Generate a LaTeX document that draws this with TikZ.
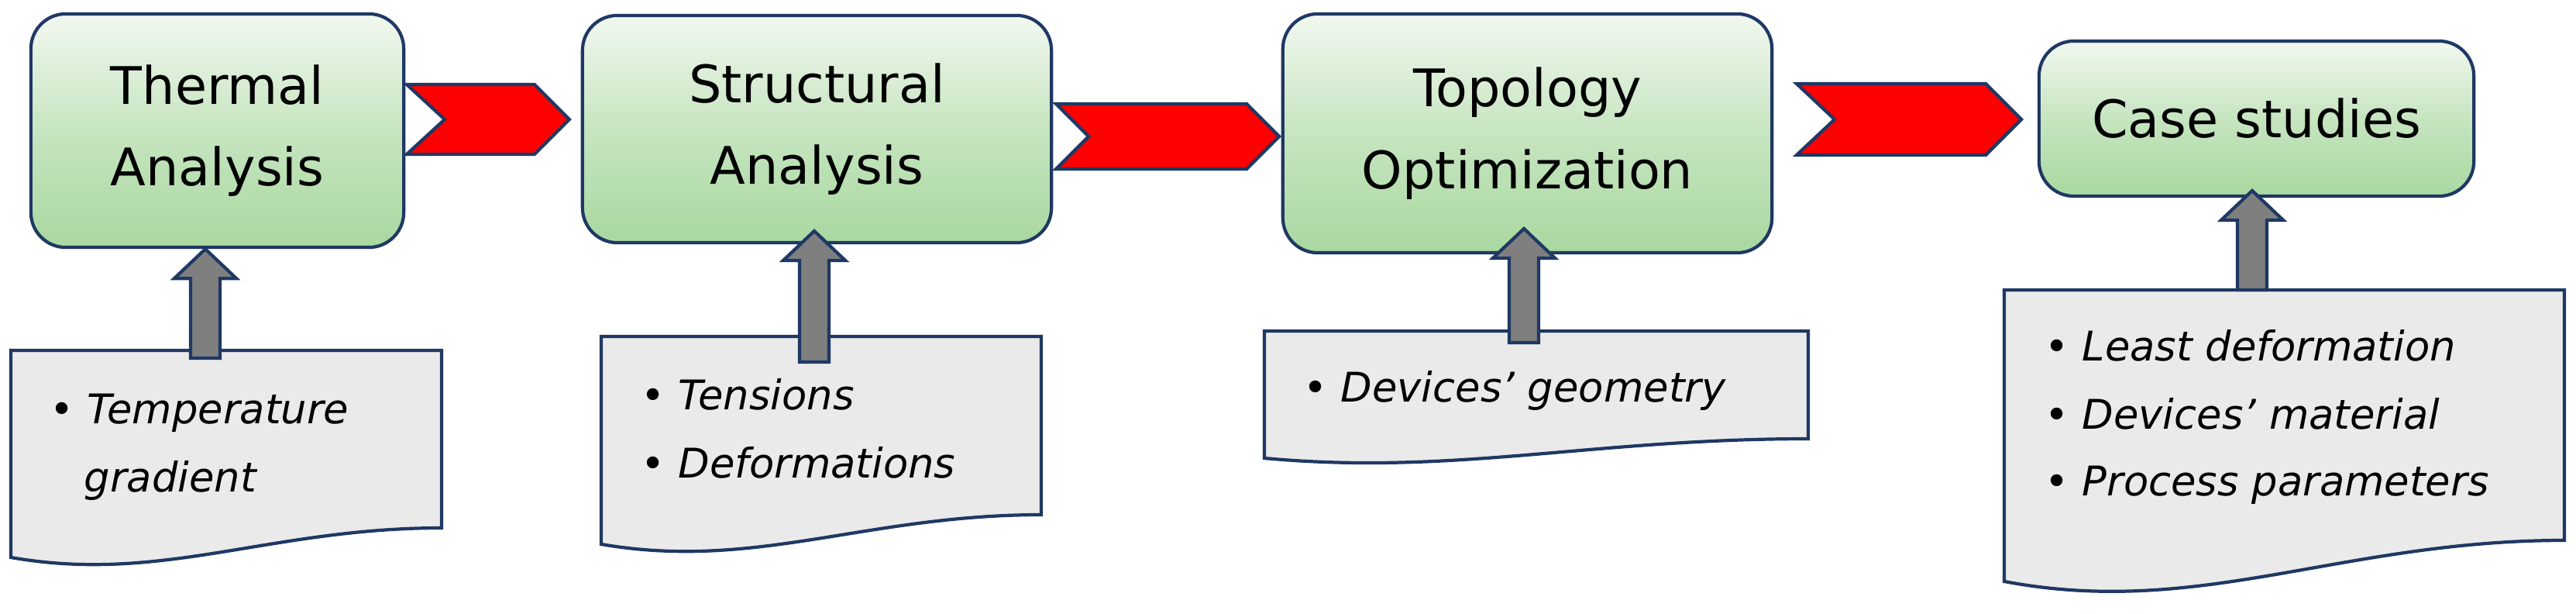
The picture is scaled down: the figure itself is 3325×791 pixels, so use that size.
\documentclass[tikz,border=0pt]{standalone}
\usepackage{fontspec}
\setmainfont{DejaVu Sans}
\usetikzlibrary{calc}
\definecolor{navy}{HTML}{1F3864}
\definecolor{arrgray}{HTML}{7F7F7F}
\definecolor{docfill}{HTML}{EAEAEA}
\definecolor{gtop}{HTML}{F2F8F0}
\definecolor{gbot}{HTML}{A9D8A0}
\tikzset{
  stage/.style={draw=navy, line width=1.2pt, rounded corners=0.45cm, top color=gtop, bottom color=gbot, middle color=gbot!60!gtop, align=center, font=\fontsize{19}{30}\selectfont, inner sep=0pt},
  docshape/.style={draw=navy, line width=1.2pt, fill=docfill},
  chevron/.style={draw=navy, line width=1.2pt, fill=red},
  grayarr/.style={draw=navy, line width=1.2pt, fill=arrgray},
  item/.style={anchor=base west, inner sep=0pt, font=\fontsize{15}{20}\selectfont}
}
\newcommand{\grayarrow}[2]{%
  \draw[grayarr] let \p1=(#1),\p2=(#2) in (\x1-5.4pt,\y1) -- (\x1-5.4pt,\y2-10.8pt) -- (\x1-11.4pt,\y2-10.8pt) -- (\x1,\y2) -- (\x1+11.4pt,\y2-10.8pt) -- (\x1+5.4pt,\y2-10.8pt) -- (\x1+5.4pt,\y1) -- cycle;}
\newcommand{\docpoly}[5]{% L R top rb lb
  \draw[docshape] (#1,#3) -- (#2,#3) -- (#2,#4) .. controls ({#2-0.4*(#2-#1)},#4) and ({#1+0.35*(#2-#1)},{#5+0.9*(#5-#4)}) .. (#1,#5) -- cycle;}
\newcommand{\chev}[6]{% x0 xn xp x1 yt yb
  \draw[chevron] (#1,#5) -- (#3,#5) -- (#4,{(#5+#6)/2}) -- (#3,#6) -- (#1,#6) -- (#2,{(#5+#6)/2}) -- cycle;}
\begin{document}
\begin{tikzpicture}[x=0.01cm,y=-0.01cm]
\useasboundingbox (0,0) rectangle (3325,791);
% stages
\node[stage, minimum width=4.81cm, minimum height=3.01cm] (thermal) at (280.5,168.5) {Thermal\\Analysis};
\node[stage, minimum width=6.05cm, minimum height=2.93cm] (structural) at (1054.5,166.5) {Structural\\Analysis};
\node[stage, minimum width=6.31cm, minimum height=3.08cm] (topology) at (1971.5,172) {Topology\\Optimization};
\node[stage, minimum width=5.61cm, minimum height=2.00cm] (cases) at (2912.5,153) {Case studies};
% chevrons between stages
\chev{525}{574}{690}{735}{109}{199}
\chev{1363}{1405}{1609}{1651}{134}{218}
\chev{2319}{2368}{2563}{2609}{108}{200}
% documents
\docpoly{14}{570}{452}{681}{719}
\docpoly{776}{1344}{434}{664}{702}
\docpoly{1632}{2334}{427}{566}{591}
\docpoly{2587}{3310}{374}{697}{750}
% arrows
\coordinate (a1b) at (265,462); \coordinate (a1t) at (thermal.south);
\coordinate (a2b) at (1051,467); \coordinate (a2t) at (1051,298);
\coordinate (a3b) at (1967,442); \coordinate (a3t) at (1967,295);
\coordinate (a4b) at (2907,374); \coordinate (a4t) at (2907,246);
\grayarrow{a1b}{a1t}
\grayarrow{a2b}{a2t}
\grayarrow{a3b}{a3t}
\grayarrow{a4b}{a4t}
% items
\node[item] (t1) at (64,546) {• \textit{Temperature}};
\node[item] (t2) at (108,634) {\textit{gradient}};
\node[item] (s1) at (827,528) {• \textit{Tensions}};
\node[item] (s2) at (827,616) {• \textit{Deformations}};
\node[item] (o1) at (1682,518) {• \textit{Devices’ geometry}};
\node[item] (c1) at (2639,465) {• \textit{Least deformation}};
\node[item] (c2) at (2639,553) {• \textit{Devices’ material}};
\node[item] (c3) at (2639,639) {• \textit{Process parameters}};
\end{tikzpicture}
\end{document}
